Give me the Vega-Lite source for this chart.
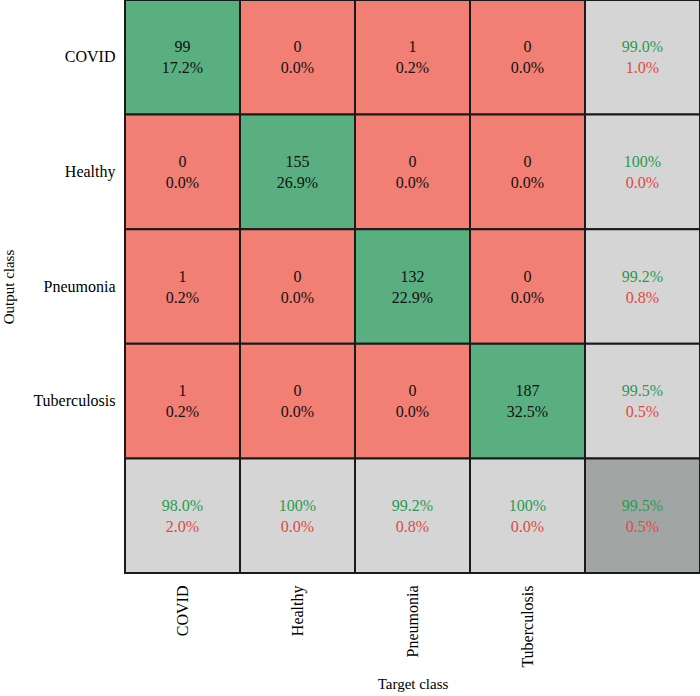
{
  "$schema": "https://vega.github.io/schema/vega-lite/v6.json",
  "width": 575,
  "height": 573,
  "autosize": "none",
  "padding": {"left": 125, "top": 0, "right": 0, "bottom": 123},
  "background": "white",
  "config": {"view": {"stroke": null}, "font": "Liberation Serif"},
  "resolve": {"scale": {"color": "independent"}},
  "data": {"values": [
    {"out": "COVID", "tgt": "COVID", "kind": "diag", "t1": "99", "t2": "17.2%", "c1": "k", "c2": "k"},
    {"out": "COVID", "tgt": "Healthy", "kind": "off", "t1": "0", "t2": "0.0%", "c1": "k", "c2": "k"},
    {"out": "COVID", "tgt": "Pneumonia", "kind": "off", "t1": "1", "t2": "0.2%", "c1": "k", "c2": "k"},
    {"out": "COVID", "tgt": "Tuberculosis", "kind": "off", "t1": "0", "t2": "0.0%", "c1": "k", "c2": "k"},
    {"out": "COVID", "tgt": "All", "kind": "sum", "t1": "99.0%", "t2": "1.0%", "c1": "g", "c2": "r"},
    {"out": "Healthy", "tgt": "COVID", "kind": "off", "t1": "0", "t2": "0.0%", "c1": "k", "c2": "k"},
    {"out": "Healthy", "tgt": "Healthy", "kind": "diag", "t1": "155", "t2": "26.9%", "c1": "k", "c2": "k"},
    {"out": "Healthy", "tgt": "Pneumonia", "kind": "off", "t1": "0", "t2": "0.0%", "c1": "k", "c2": "k"},
    {"out": "Healthy", "tgt": "Tuberculosis", "kind": "off", "t1": "0", "t2": "0.0%", "c1": "k", "c2": "k"},
    {"out": "Healthy", "tgt": "All", "kind": "sum", "t1": "100%", "t2": "0.0%", "c1": "g", "c2": "r"},
    {"out": "Pneumonia", "tgt": "COVID", "kind": "off", "t1": "1", "t2": "0.2%", "c1": "k", "c2": "k"},
    {"out": "Pneumonia", "tgt": "Healthy", "kind": "off", "t1": "0", "t2": "0.0%", "c1": "k", "c2": "k"},
    {"out": "Pneumonia", "tgt": "Pneumonia", "kind": "diag", "t1": "132", "t2": "22.9%", "c1": "k", "c2": "k"},
    {"out": "Pneumonia", "tgt": "Tuberculosis", "kind": "off", "t1": "0", "t2": "0.0%", "c1": "k", "c2": "k"},
    {"out": "Pneumonia", "tgt": "All", "kind": "sum", "t1": "99.2%", "t2": "0.8%", "c1": "g", "c2": "r"},
    {"out": "Tuberculosis", "tgt": "COVID", "kind": "off", "t1": "1", "t2": "0.2%", "c1": "k", "c2": "k"},
    {"out": "Tuberculosis", "tgt": "Healthy", "kind": "off", "t1": "0", "t2": "0.0%", "c1": "k", "c2": "k"},
    {"out": "Tuberculosis", "tgt": "Pneumonia", "kind": "off", "t1": "0", "t2": "0.0%", "c1": "k", "c2": "k"},
    {"out": "Tuberculosis", "tgt": "Tuberculosis", "kind": "diag", "t1": "187", "t2": "32.5%", "c1": "k", "c2": "k"},
    {"out": "Tuberculosis", "tgt": "All", "kind": "sum", "t1": "99.5%", "t2": "0.5%", "c1": "g", "c2": "r"},
    {"out": "All", "tgt": "COVID", "kind": "sum", "t1": "98.0%", "t2": "2.0%", "c1": "g", "c2": "r"},
    {"out": "All", "tgt": "Healthy", "kind": "sum", "t1": "100%", "t2": "0.0%", "c1": "g", "c2": "r"},
    {"out": "All", "tgt": "Pneumonia", "kind": "sum", "t1": "99.2%", "t2": "0.8%", "c1": "g", "c2": "r"},
    {"out": "All", "tgt": "Tuberculosis", "kind": "sum", "t1": "100%", "t2": "0.0%", "c1": "g", "c2": "r"},
    {"out": "All", "tgt": "All", "kind": "total", "t1": "99.5%", "t2": "0.5%", "c1": "g", "c2": "r"}
  ]},
  "encoding": {
    "x": {
      "field": "tgt", "type": "nominal",
      "scale": {"domain": ["COVID", "Healthy", "Pneumonia", "Tuberculosis", "All"], "paddingInner": 0, "paddingOuter": 0},
      "axis": {
        "title": "Target class", "labelAngle": -90, "domain": false, "ticks": false,
        "labelPadding": 12, "labelFontSize": 16, "labelColor": "#000", "labelFont": "Liberation Serif",
        "labelExpr": "datum.value == 'All' ? '' : datum.value",
        "titleFont": "Liberation Serif", "titleFontSize": 15, "titleFontWeight": "normal", "titleColor": "#000",
        "titlePadding": 9
      }
    },
    "y": {
      "field": "out", "type": "nominal",
      "scale": {"domain": ["COVID", "Healthy", "Pneumonia", "Tuberculosis", "All"], "paddingInner": 0, "paddingOuter": 0},
      "axis": {
        "title": "Output class", "domain": false, "ticks": false,
        "labelPadding": 10, "labelFontSize": 16, "labelColor": "#000", "labelFont": "Liberation Serif",
        "labelExpr": "datum.value == 'All' ? '' : datum.value",
        "titleFont": "Liberation Serif", "titleFontSize": 15, "titleFontWeight": "normal", "titleColor": "#000",
        "titlePadding": 16
      }
    }
  },
  "layer": [
    {
      "mark": {"type": "rect", "stroke": "#1a1a1a", "strokeWidth": 2},
      "encoding": {
        "color": {
          "field": "kind", "type": "nominal", "legend": null,
          "scale": {"domain": ["diag", "off", "sum", "total"], "range": ["#5aaf80", "#f17f74", "#d5d5d5", "#a1a6a5"]}
        }
      }
    },
    {
      "mark": {"type": "text", "dy": -10, "fontSize": 16, "font": "Liberation Serif"},
      "encoding": {
        "text": {"field": "t1"},
        "color": {"field": "c1", "type": "nominal", "legend": null,
          "scale": {"domain": ["k", "g", "r"], "range": ["#111111", "#2a9a50", "#e2483f"]}}
      }
    },
    {
      "mark": {"type": "text", "dy": 11, "fontSize": 16, "font": "Liberation Serif"},
      "encoding": {
        "text": {"field": "t2"},
        "color": {"field": "c2", "type": "nominal", "legend": null,
          "scale": {"domain": ["k", "g", "r"], "range": ["#111111", "#2a9a50", "#e2483f"]}}
      }
    }
  ]
}
